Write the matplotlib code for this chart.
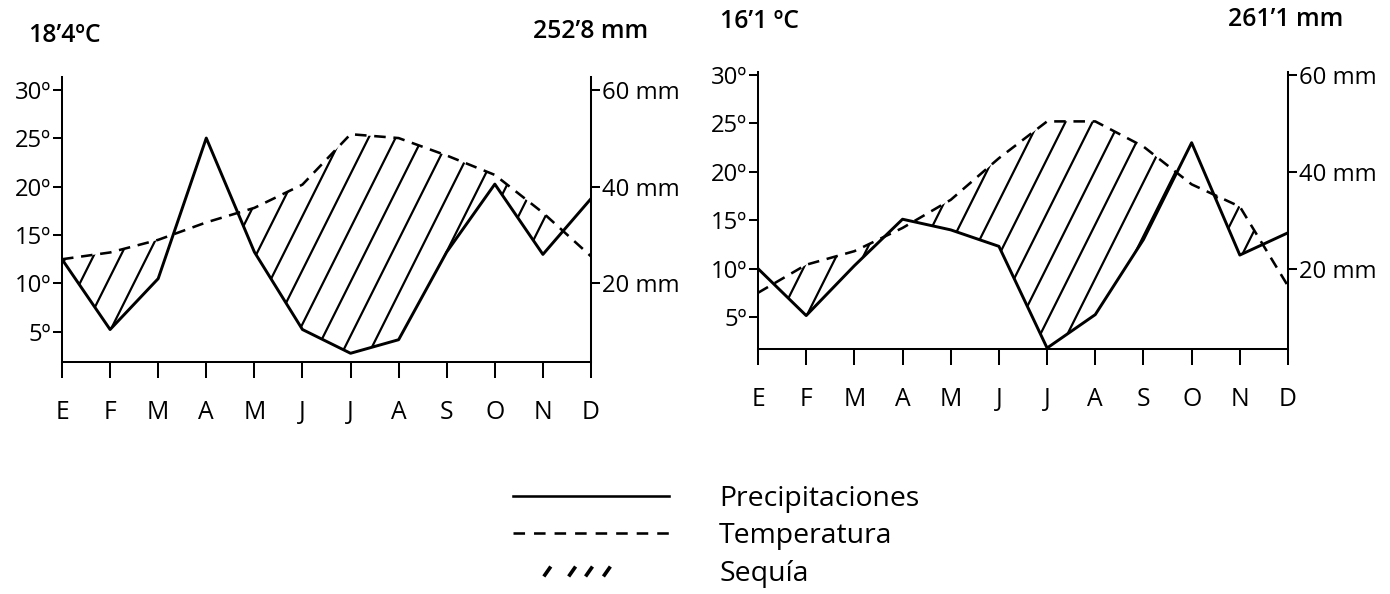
import matplotlib

matplotlib.use("Agg")
import matplotlib.pyplot as plt
import numpy as np
from matplotlib.collections import LineCollection
from matplotlib.lines import Line2D
from matplotlib.path import Path

# monthly values (temperature in ºC, precipitation in mm)
months = ["E", "F", "M", "A", "M", "J", "J", "A", "S", "O", "N", "D"]

left_precip = [25, 10.5, 21, 50, 26.5, 10.5, 5.6, 8.4, 26.5, 40.5, 26, 37.5]
left_temp = [12.5, 13.2, 14.5, 16.3, 17.8, 20.2, 25.4, 25.0, 23.2, 21.2, 17.3, 12.8]
left_header = ["18’4ºC", "252’8 mm"]

right_precip = [20, 10.3, 20.6, 30.2, 28, 24.6, 3.6, 10.5, 26, 46, 22.8, 27.4]
right_temp = [7.5, 10.4, 11.8, 14.2, 17.1, 21.4, 25.2, 25.2, 22.6, 18.7, 16.4, 8.2]
right_header = ["16’1 ºC", "261’1 mm"]

temp_ticks = [5, 10, 15, 20, 25, 30]
precip_ticks = [20, 40, 60]

W, H, DPI = 1390, 594, 132
plt.rcParams["font.family"] = ["Open Sans", "DejaVu Sans"]


def hatch_drought(ax, poly, rect):
    # steep drought hatching (about 63 degrees), clipped to the dry-period polygons
    paths = poly.get_paths()
    if not paths:
        return
    clip = Path.make_compound_path(*paths)
    w_px, h_px = rect[2] * W, rect[3] * H
    run = 0.5 * h_px / w_px          # x shift (axes units) over the full height
    step = 27.0 / w_px               # horizontal spacing of the lines
    segs = [[(c, 0.0), (c + run, 1.0)] for c in np.arange(-0.5, 1.05, step)]
    lc = LineCollection(segs, transform=ax.transAxes, colors="black",
                        linewidths=1.2, zorder=1)
    ax.add_collection(lc, autolim=False)
    lc.set_clip_path(clip, ax.transData)


def draw_climograph(fig, rect, precip, temp, ylim):
    ax = fig.add_axes(rect)
    x = np.arange(len(months))
    p_half = np.asarray(precip) / 2.0
    t = np.asarray(temp)

    dry = ax.fill_between(x, p_half, t, where=t > p_half, interpolate=True,
                          facecolor="none", linewidth=0)
    hatch_drought(ax, dry, rect)
    ax.plot(x, p_half, color="black", lw=1.6, zorder=3)
    ax.plot(x, t, color="black", lw=1.4, linestyle=(0, (4.5, 3)), zorder=3)

    ax.set_xlim(0, len(months) - 1)
    ax.set_ylim(*ylim)
    ax.set_xticks(x)
    ax.set_xticklabels(months, fontsize=13.5)
    ax.set_yticks(temp_ticks)
    ax.set_yticklabels([f"{v}º" for v in temp_ticks], fontsize=13)
    ax.tick_params(axis="x", length=8.5, width=1.1, pad=12)
    ax.tick_params(axis="y", length=5, width=1.1, pad=1)
    ax.spines["top"].set_visible(False)
    for s in ["left", "bottom", "right"]:
        ax.spines[s].set_linewidth(1.1)

    ax2 = ax.twinx()
    ax2.set_ylim(ylim[0] * 2, ylim[1] * 2)
    ax2.set_yticks(precip_ticks)
    ax2.set_yticklabels([f"{v} mm" for v in precip_ticks], fontsize=13)
    ax2.tick_params(axis="y", length=5, width=1.1, pad=1)
    for s in ["top", "left", "bottom"]:
        ax2.spines[s].set_visible(False)
    ax2.spines["right"].set_linewidth(1.1)
    return ax


def main() -> None:
    fig = plt.figure(figsize=(W / DPI, H / DPI), dpi=DPI)

    left_rect = [62 / W, 1 - 362 / H, 529 / W, 285 / H]
    right_rect = [758 / W, 1 - 349 / H, 530 / W, 277 / H]
    draw_climograph(fig, left_rect, left_precip, left_temp, (1.9, 31.3))
    draw_climograph(fig, right_rect, right_precip, right_temp, (1.7, 30.3))

    hdr = dict(fontsize=13.5, va="center", fontweight="semibold")
    fig.text(28 / W, 1 - 35 / H, left_header[0], **hdr)
    fig.text(533 / W, 1 - 31 / H, left_header[1], **hdr)
    fig.text(720 / W, 1 - 21 / H, right_header[0], **hdr)
    fig.text(1228 / W, 1 - 20 / H, right_header[1], **hdr)

    # legend glyph for drought: "/ ///" drawn as short slanted strokes
    slash_x = [-48, -23, -6, 12]
    verts, codes = [], []
    for sx in slash_x:
        verts += [(sx, -5), (sx + 7, 5)]
        codes += [Path.MOVETO, Path.LINETO]
    slash_marker = Path(verts, codes)

    handles = [
        Line2D([], [], color="black", lw=1.4),
        Line2D([], [], color="black", lw=1.4, linestyle=(0, (4.5, 3.5))),
        Line2D([], [], color="black", linestyle="none", marker=slash_marker,
               markersize=52, markeredgewidth=2.0, markerfacecolor="none"),
    ]
    labels = ["Precipitaciones", "Temperatura", "Sequía"]
    fig.legend(handles, labels, loc="upper left",
               bbox_to_anchor=(513 / W, 1 - 485 / H),
               frameon=False, fontsize=15.5, handlelength=5.5,
               handletextpad=1.75, labelspacing=0.33, borderpad=0,
               borderaxespad=0, numpoints=1)

    fig.savefig("out.png", dpi=DPI)
    plt.close(fig)


if __name__ == "__main__":
    main()
